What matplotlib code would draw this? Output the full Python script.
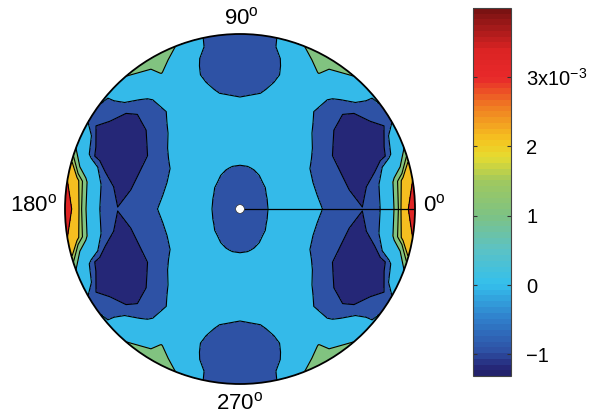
import numpy as np
import matplotlib.pyplot as plt
from matplotlib.colors import LinearSegmentedColormap, Normalize
from matplotlib.patches import Circle
import matplotlib.cm as cm

plt.rcParams['font.family'] = ['Liberation Sans', 'DejaVu Sans']
plt.rcParams['mathtext.fontset'] = 'custom'
plt.rcParams['mathtext.rm'] = 'Liberation Sans'
plt.rcParams['mathtext.it'] = 'Liberation Sans:italic'

# radial stations on the unit disc and the angles of one quadrant (deg)
radii = [0.0, 0.1, 0.2, 0.3, 0.4, 0.5, 0.6, 0.7, 0.8, 0.85, 0.9, 0.95, 1.0]
quad_angles = [0, 10, 20, 30, 40, 50, 60, 70, 75, 80, 90]

# field values in units of 1e-3, rows = radii, columns = quad_angles
field_quad = np.array([
    [-1.00, -1.00, -1.00, -1.00, -1.00, -1.00, -1.00, -1.00, -1.00, -1.00, -1.00],
    [-0.95, -0.95, -0.95, -0.96, -0.96, -0.96, -0.97, -0.97, -0.97, -0.97, -0.97],
    [-0.70, -0.70, -0.72, -0.74, -0.78, -0.80, -0.84, -0.87, -0.88, -0.89, -0.90],
    [-0.50, -0.50, -0.52, -0.55, -0.58, -0.62, -0.65, -0.68, -0.69, -0.70, -0.70],
    [-0.60, -0.66, -0.66, -0.64, -0.50, -0.45, -0.45, -0.45, -0.45, -0.45, -0.45],
    [-0.88, -0.95, -0.98, -0.90, -0.70, -0.55, -0.35, -0.30, -0.32, -0.35, -0.40],
    [-1.00, -1.05, -1.08, -1.08, -0.95, -0.72, -0.45, -0.40, -0.50, -0.60, -0.70],
    [-1.09, -1.20, -1.25, -1.28, -1.10, -0.88, -0.60, -0.55, -0.70, -0.88, -0.95],
    [-0.82, -0.90, -1.28, -1.30, -1.18, -0.88, -0.30, -0.55, -0.90, -1.00, -1.05],
    [0.20, -0.10, -1.20, -1.25, -1.10, -0.70, 0.30, -0.40, -0.88, -1.02, -1.05],
    [1.20, 1.10, -1.05, -1.20, -0.95, -0.40, 0.85, -0.10, -0.78, -1.00, -1.05],
    [2.20, 1.80, -0.30, -1.10, -0.85, -0.10, 1.10, 0.40, -0.65, -0.95, -1.00],
    [3.90, 2.50, 0.90, -0.85, -0.78, 0.90, 1.25, 0.70, -0.60, -0.95, -0.95],
])

levels = [-1.35, -1.1, -0.8, 0.8, 1.3, 1.6, 2.6, 3.95]
vmin, vmax = -1.31, 3.99

cbar_ticks = [-1, 0, 1, 2, 3]
cbar_labels = ['\u22121', '0', '1', '2', r'3x10$^{\mathregular{-3}}$']
angle_labels = ['0', '90', '180', '270']

# colour stops of the colour bar, (value, colour)
stops = [(-1.31, '#23226c'), (-1.2, '#25297a'), (-1.0, '#2e4fa3'),
         (-0.5, '#3080cc'), (0.0, '#34c0ec'), (0.5, '#5cc2c4'),
         (1.0, '#7ec283'), (1.5, '#a0c85e'), (1.85, '#e6dc30'),
         (2.1, '#f5c420'), (2.6, '#f07a22'), (3.0, '#e8292a'),
         (3.4, '#dc2424'), (3.99, '#7a1212')]
cmap = LinearSegmentedColormap.from_list(
    'bar', [((v - vmin) / (vmax - vmin), c) for v, c in stops], N=64)
norm = Normalize(vmin * 1e-3, vmax * 1e-3)


def fold(a):
    # field is symmetric about both axes
    a = a % 360
    if a > 180:
        a = 360 - a
    if a > 90:
        a = 180 - a
    return quad_angles.index(a)


full_angles = sorted({v for a in quad_angles
                      for v in (a, 180 - a, 180 + a, 360 - a)})
field = field_quad[:, [fold(a) for a in full_angles]] * 1e-3
R, T = np.meshgrid(radii, np.deg2rad(full_angles), indexing='ij')
X = R * np.cos(T)
Y = R * np.sin(T)

fig = plt.figure(figsize=(5.99, 4.19), dpi=100)
ax = fig.add_axes([65 / 599, 35 / 419, 350 / 599, 350 / 419])
ax.set_xlim(-1, 1)
ax.set_ylim(-1, 1)
ax.axis('off')

lv = np.array(levels) * 1e-3
ax.contourf(X, Y, field, levels=lv, cmap=cmap, norm=norm)
ax.contour(X, Y, field, levels=lv[1:-1], colors='k', linewidths=0.8,
           linestyles='solid')

ax.add_patch(Circle((0, 0), 1.0, fill=False, ec='k', lw=1.3, clip_on=False))
ax.plot([0, 1], [0, 0], color='k', lw=0.9)
ax.add_patch(Circle((0, 0), 0.025, fc='white', ec='#333333', lw=0.5, zorder=5))

# angle labels around the rim
label_pos = [(1.045, 0.02, 'left'), (0.01, 1.09, 'center'),
             (-1.045, 0.02, 'right'), (0.0, -1.11, 'center')]
for txt, (x, y, ha) in zip(angle_labels, label_pos):
    ax.text(x, y, txt + r'$^{\mathregular{o}}$', fontsize=16,
            ha=ha, va='center', clip_on=False)

cax = fig.add_axes([473 / 599, 43 / 419, 38 / 599, 368 / 419])
sm = cm.ScalarMappable(norm=norm, cmap=cmap)
cb = fig.colorbar(sm, cax=cax)
cb.set_ticks(np.array(cbar_ticks) * 1e-3)
cb.set_ticklabels(cbar_labels)
cb.outline.set_linewidth(0.8)
cb.outline.set_edgecolor('#444444')
cax.tick_params(direction='in', left=True, right=True, length=3,
                width=0.8, color='#333333', labelsize=14.5, pad=11)

fig.savefig('out.png', dpi=100)
